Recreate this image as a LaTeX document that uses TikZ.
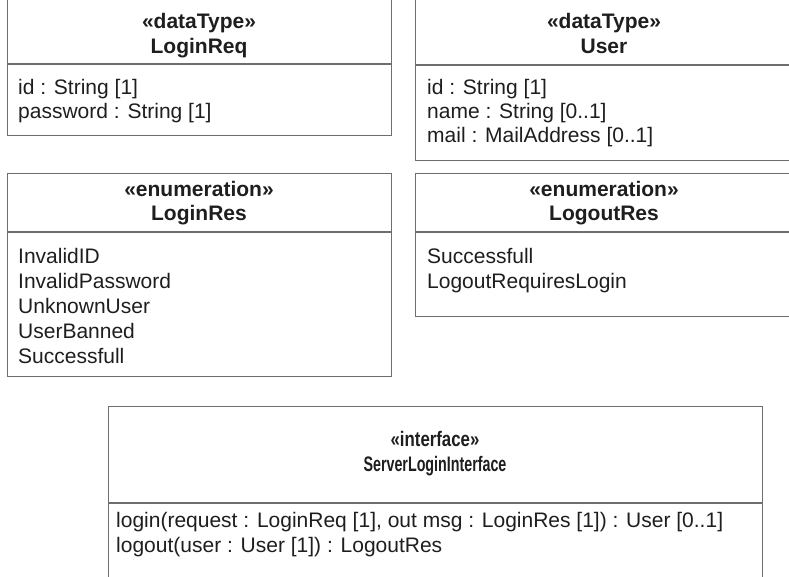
\documentclass[tikz,border=0pt]{standalone}
\usepackage{fontspec}
\setmainfont{Liberation Sans}
\definecolor{edge}{HTML}{6E6E6E}
\definecolor{ink}{HTML}{1E1E1E}
\tikzset{
  umlbox/.style={draw=edge, line width=1.3pt, rectangle, inner sep=0pt, anchor=north west},
  sepline/.style={draw=edge, line width=1.3pt},
  head/.style={text=ink, inner sep=0pt, anchor=base, font=\fontsize{21}{25}\selectfont\bfseries},
  ihead/.style={text=ink, inner sep=0pt, anchor=base, font=\fontsize{21}{25}\selectfont\bfseries},
  body/.style={text=ink, inner sep=0pt, anchor=base west, font=\fontsize{21}{25}\selectfont},
}
\begin{document}
\begin{tikzpicture}[x=1pt,y=-1pt]
\useasboundingbox (0,0) rectangle (789,577);
\clip (0,0) rectangle (789,577);
% LoginReq
\node[umlbox, minimum width=384pt, minimum height=140pt] (reqbox) at (7,-5) {};
\draw[sepline] (7,64) -- (391,64);
\node[head] (reqs) at (199,29) {«dataType»};
\node[head] (reqn) at (199,54) {LoginReq};
\node[body] (req1) at (18,95) {id : String [1]};
\node[body] (req2) at (18,119) {password : String [1]};
% User
\node[umlbox, minimum width=378pt, minimum height=165pt] (userbox) at (415,-5) {};
\draw[sepline] (415,65) -- (793,65);
\node[head] (users) at (604,29) {«dataType»};
\node[head] (usern) at (604,54) {User};
\node[body] (user1) at (427,95) {id : String [1]};
\node[body] (user2) at (427,119) {name : String [0..1]};
\node[body] (user3) at (427,143) {mail : MailAddress [0..1]};
% LoginRes
\node[umlbox, minimum width=384pt, minimum height=203pt] (resbox) at (7,173) {};
\draw[sepline] (7,232) -- (391,232);
\node[head] (ress) at (199,197) {«enumeration»};
\node[head] (resn) at (199,221) {LoginRes};
\node[body] (res1) at (18,263) {InvalidID};
\node[body] (res2) at (18,288) {InvalidPassword};
\node[body] (res3) at (18,313) {UnknownUser};
\node[body] (res4) at (18,338) {UserBanned};
\node[body] (res5) at (18,363) {Successfull};
% LogoutRes
\node[umlbox, minimum width=378pt, minimum height=143pt] (outbox) at (415,173) {};
\draw[sepline] (415,232) -- (793,232);
\node[head] (outs) at (604,197) {«enumeration»};
\node[head] (outn) at (604,221) {LogoutRes};
\node[body] (out1) at (427,263) {Successfull};
\node[body] (out2) at (427,288) {LogoutRequiresLogin};
% Interface
\node[umlbox, minimum width=654pt, minimum height=200pt] (ifbox) at (108,406) {};
\draw[sepline] (108,503) -- (762,503);
\node[ihead] (ifs) at (435,446) {\scalebox{0.8}[1]{«interface»}};
\node[ihead] (ifn) at (435,471) {\scalebox{0.68}[1]{ServerLoginInterface}};
\node[body] (if1) at (116,527) {login(request : LoginReq [1], out msg : LoginRes [1]) : User [0..1]};
\node[body] (if2) at (116,552) {logout(user : User [1]) : LogoutRes};
\end{tikzpicture}
\end{document}
